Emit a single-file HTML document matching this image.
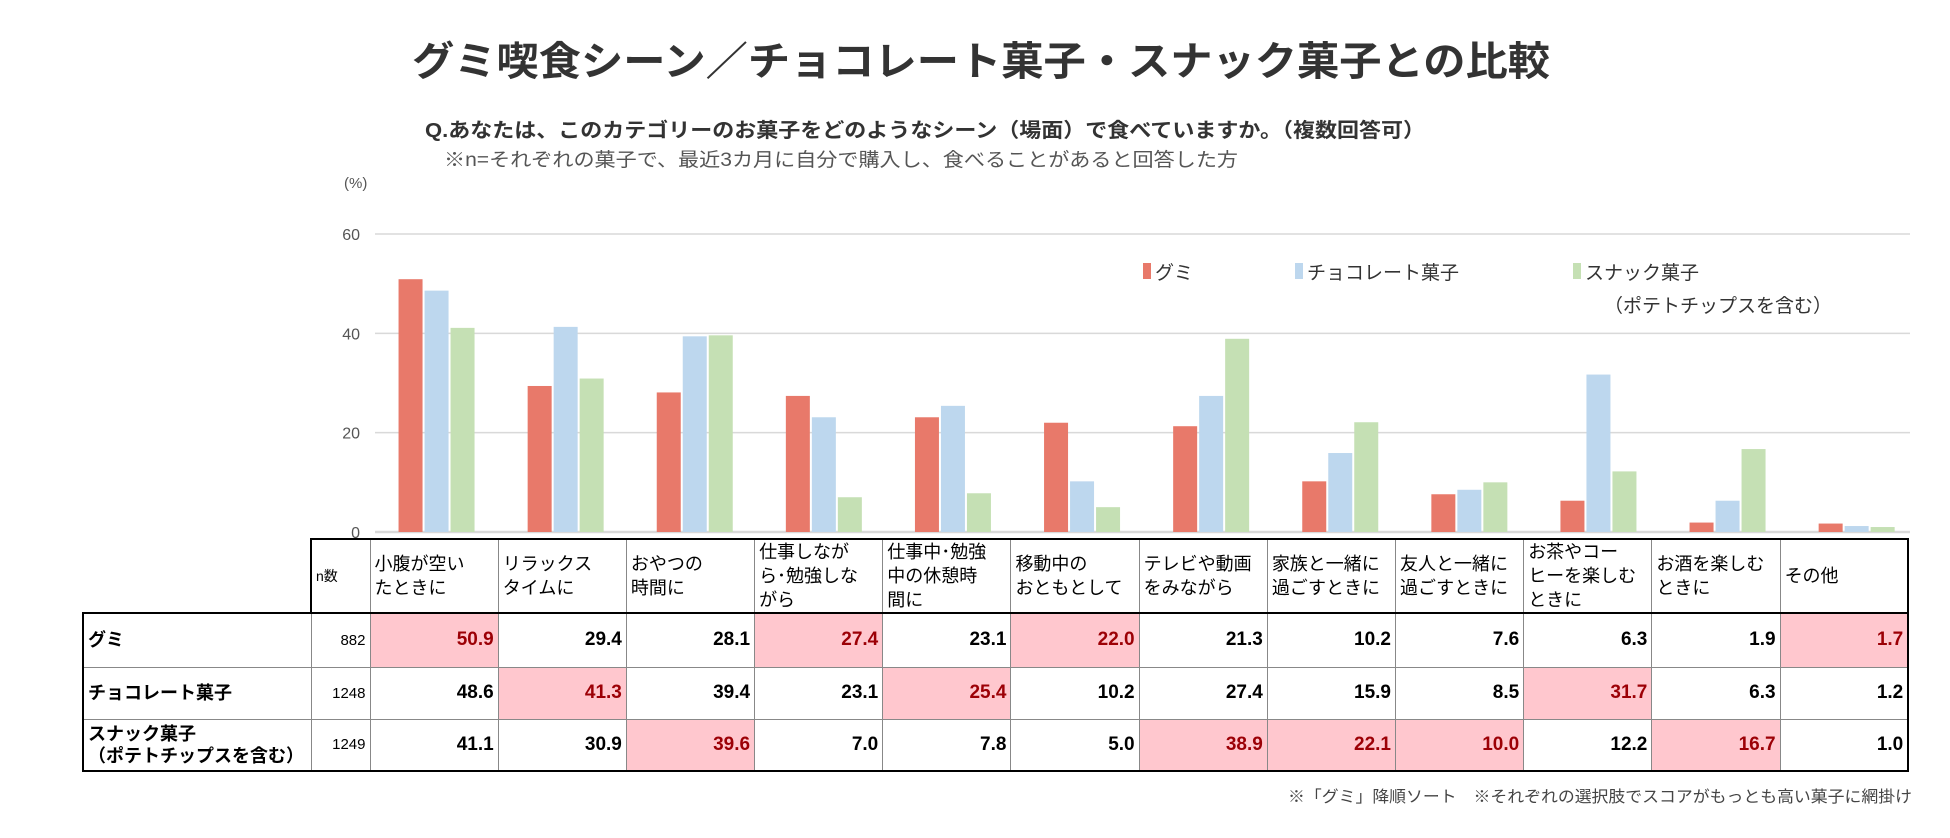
<!DOCTYPE html>
<html><head><meta charset="utf-8">
<style>
body{margin:0;background:#fff;width:1950px;height:838px;overflow:hidden;position:relative;font-family:"Liberation Sans","Noto Sans CJK JP",sans-serif;}
svg{position:absolute;left:0;top:0;}
table{position:absolute;left:82px;top:538px;border-collapse:collapse;table-layout:fixed;}
td{padding:0 4px;font-size:18px;color:#000;border:1px solid #888;overflow:hidden;white-space:nowrap;}
tr.h td{height:72px;line-height:24px;vertical-align:middle;}
tr.h td.blank{border:none;border-right:2px solid #000;border-bottom:2px solid #000;}
td.v{text-align:right;font-weight:bold;font-size:19px;}
td.n{text-align:right;font-size:15px;}
td.lab{font-weight:bold;font-size:18px;line-height:22px;}
td.hi{background:#ffc7ce;color:#9c0006;}
</style></head><body>
<svg id="chart" width="1950" height="838">
<text x="412" y="75" font-size="40" font-weight="bold" fill="#333" textLength="1138" lengthAdjust="spacingAndGlyphs">グミ喫食シーン／チョコレート菓子・スナック菓子との比較</text>
<text x="425" y="137" font-size="20" font-weight="bold" fill="#333" textLength="1000" lengthAdjust="spacingAndGlyphs">Q.あなたは、このカテゴリーのお菓子をどのようなシーン（場面）で食べていますか。（複数回答可）</text>
<text x="444" y="166" font-size="19" fill="#555" textLength="794" lengthAdjust="spacingAndGlyphs">※n=それぞれの菓子で、最近3カ月に自分で購入し、食べることがあると回答した方</text>
<text x="344" y="188" font-size="15" fill="#555">(%)</text>
<g id="grid"></g><g id="bars"></g>
<g>
<rect x="1143" y="263" width="8" height="16" fill="#e8796a"/><text x="1155" y="279" font-size="19" fill="#333">グミ</text>
<rect x="1295" y="263" width="8" height="16" fill="#bdd7ee"/><text x="1307" y="279" font-size="19" fill="#333">チョコレート菓子</text>
<rect x="1573" y="263" width="8" height="16" fill="#c5e0b4"/><text x="1585" y="279" font-size="19" fill="#333">スナック菓子</text>
<text x="1604" y="312" font-size="19" fill="#333">（ポテトチップスを含む）</text>
</g>
<text x="1912" y="802" font-size="16" fill="#444" text-anchor="end" textLength="624" lengthAdjust="spacingAndGlyphs">※「グミ」降順ソート　※それぞれの選択肢でスコアがもっとも高い菓子に網掛け</text>
</svg>
<table id="tbl">
<colgroup><col style="width:228px"><col style="width:59px"><col span="12" style="width:128.2px"></colgroup>
<tbody id="tb"></tbody></table>
<script>
const categories=["小腹が空い<br>たときに","リラックス<br>タイムに","おやつの<br>時間に","仕事しなが<br>ら･勉強しな<br>がら","仕事中･勉強<br>中の休憩時<br>間に","移動中の<br>おともとして","テレビや動画<br>をみながら","家族と一緒に<br>過ごすときに","友人と一緒に<br>過ごすときに","お茶やコー<br>ヒーを楽しむ<br>ときに","お酒を楽しむ<br>ときに","その他"];
const gummy=[50.9,29.4,28.1,27.4,23.1,22.0,21.3,10.2,7.6,6.3,1.9,1.7];
const choco=[48.6,41.3,39.4,23.1,25.4,10.2,27.4,15.9,8.5,31.7,6.3,1.2];
const snack=[41.1,30.9,39.6,7.0,7.8,5.0,38.9,22.1,10.0,12.2,16.7,1.0];
const seriesNames=["グミ","チョコレート菓子","スナック菓子<br>（ポテトチップスを含む）"];
const nCounts=[882,1248,1249];
const yTicks=[0,20,40,60];
const ns="http://www.w3.org/2000/svg";
const x0=371,colW=129.1,yMax=60,yTop=234,yBot=532,plotL=375,plotR=1910;
const y=v=>yBot-(v/yMax)*(yBot-yTop);
const grid=document.getElementById('grid');
yTicks.forEach(t=>{
 const l=document.createElementNS(ns,'line');
 
 
 l.setAttribute('x1',plotL);l.setAttribute('x2',plotR);l.setAttribute('y1',y(t));l.setAttribute('y2',y(t));
 l.setAttribute('stroke','#d9d9d9');l.setAttribute('stroke-width',t===0?2.5:1.5);grid.appendChild(l);
 const tx=document.createElementNS(ns,'text');
 
 
 tx.setAttribute('x',360);tx.setAttribute('y',y(t)+6);tx.setAttribute('text-anchor','end');tx.setAttribute('font-size','16');tx.setAttribute('fill','#555');tx.textContent=t;grid.appendChild(tx);
});
const bars=document.getElementById('bars');
const series=[gummy,choco,snack],colors=["#e8796a","#bdd7ee","#c5e0b4"],keys=["gummy","choco","snack"];
const bw=24,gap=2;
categories.forEach((c,i)=>{
 const cx=x0+colW*i+colW/2+1;
 series.forEach((s,k)=>{
  const r=document.createElementNS(ns,'rect');
  
  
  const bx=cx-(3*bw+2*gap)/2+k*(bw+gap);
  r.setAttribute('x',bx);r.setAttribute('width',bw);r.setAttribute('y',y(s[i]));r.setAttribute('height',yBot-y(s[i]));r.setAttribute('fill',colors[k]);
  bars.appendChild(r);
 });
});
const tb=document.getElementById('tb');
let h='<tr class="h"><td class="blank"></td><td style="font-size:14px;border-top:2px solid #000;border-bottom:2px solid #000">n数</td>';
categories.forEach((c,i)=>{h+='<td style="border-top:2px solid #000;border-bottom:2px solid #000;'+(i==11?'border-right:2px solid #000':'')+'">'+c+'</td>';});
h+='</tr>';
series.forEach((s,k)=>{
 h+='<tr style="height:'+(k==0?54:52)+'px"><td class="lab" style="border-left:2px solid #000;'+(k==2?'border-bottom:2px solid #000':'')+'">'+seriesNames[k]+'</td><td class="n" style="'+(k==2?'border-bottom:2px solid #000':'')+'">'+nCounts[k]+'</td>';
 s.forEach((v,i)=>{
  const mx=Math.max(gummy[i],choco[i],snack[i]);
  h+='<td class="v'+(v===mx?' hi':'')+'" style="'+(i==11?'border-right:2px solid #000;':'')+(k==2?'border-bottom:2px solid #000':'')+'">'+v.toFixed(1)+'</td>';
 });
 h+='</tr>';
});
tb.innerHTML=h;
</script>
</body></html>
